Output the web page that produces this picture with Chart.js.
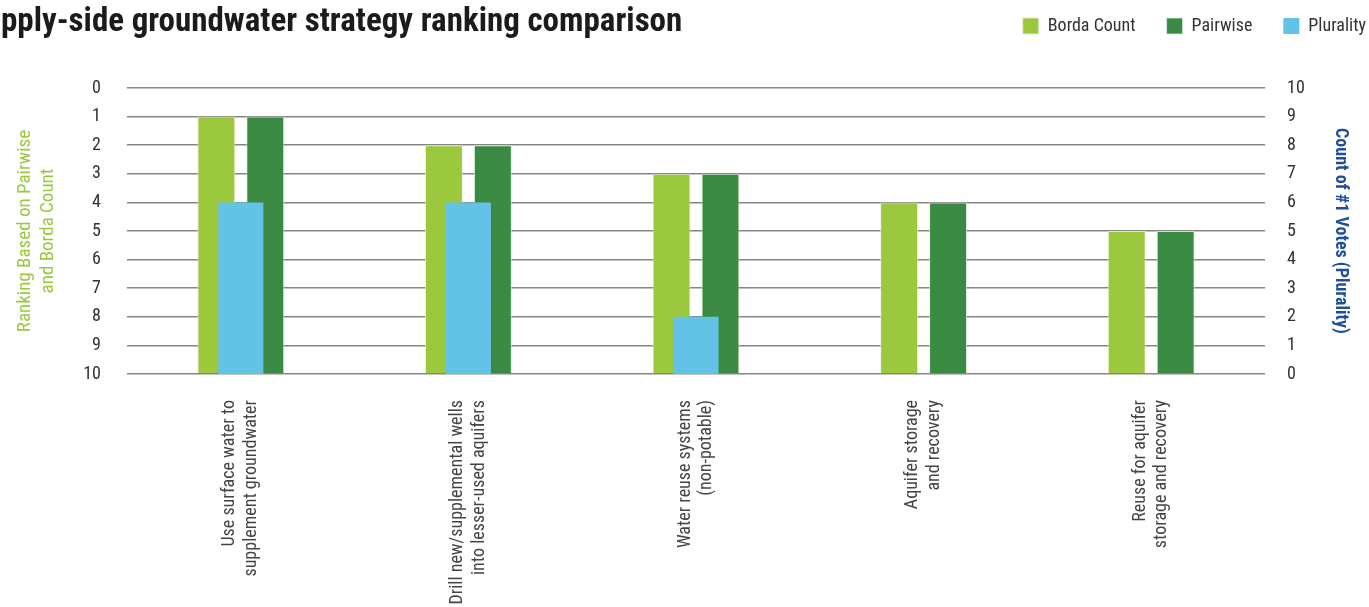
<!DOCTYPE html>
<html>
<head>
<meta charset="utf-8">
<script src="https://cdn.jsdelivr.net/npm/chart.js@4.4.1/dist/chart.umd.min.js"></script>
<style>
  html, body { margin: 0; padding: 0; background: #ffffff; overflow: hidden; }
  #c { display: block; }
</style>
</head>
<body>
<canvas id="c" width="1369" height="607"></canvas>
<script>
const chartTitle = 'Supply-side groundwater strategy ranking comparison';
const categories = [
  ['Use surface water to', 'supplement groundwater'],
  ['Drill new/supplemental wells', 'into lesser-used aquifers'],
  ['Water reuse systems', '(non-potable)'],
  ['Aquifer storage', 'and recovery'],
  ['Reuse for aquifer', 'storage and recovery']
];
const bordaRank = [1, 2, 3, 4, 5];
const pairwiseRank = [1, 2, 3, 4, 5];
const pluralityVotes = [6, 6, 2, 0, 0];
const leftAxisTitle = ['Ranking Based on Pairwise', 'and Borda Count'];
const rightAxisTitle = 'Count of #1 Votes (Plurality)';

const FONT = "'Liberation Sans Narrow', 'Roboto Condensed', 'Roboto', sans-serif";

const titlePlugin = {
  id: 'clippedTitle',
  afterDraw(chart) {
    const ctx = chart.ctx;
    ctx.save();
    ctx.font = 'bold 33px ' + FONT;
    ctx.fillStyle = '#1b1b1b';
    ctx.textBaseline = 'alphabetic';
    const hidden = ctx.measureText('Su').width;
    ctx.fillText(chartTitle, -hidden + 1, 31);
    ctx.restore();
  }
};

new Chart(document.getElementById('c'), {
  type: 'bar',
  data: {
    labels: categories,
    datasets: [
      {
        label: 'Plurality',
        data: pluralityVotes,
        xAxisID: 'x',
        yAxisID: 'y2',
        grouped: false,
        backgroundColor: '#62c3e6',
        borderWidth: 0,
        categoryPercentage: 1,
        barPercentage: 0.198,
        order: 0
      },
      {
        label: 'Borda Count',
        data: bordaRank,
        xAxisID: 'x',
        yAxisID: 'y',
        base: 10,
        backgroundColor: '#9bc83c',
        borderColor: 'rgba(230,240,220,0.8)',
        borderWidth: 1,
        categoryPercentage: 0.43,
        barPercentage: 0.776,
        order: 1
      },
      {
        label: 'Pairwise',
        data: pairwiseRank,
        xAxisID: 'x',
        yAxisID: 'y',
        base: 10,
        backgroundColor: '#3a8a43',
        borderColor: 'rgba(220,235,220,0.8)',
        borderWidth: 1,
        categoryPercentage: 0.43,
        barPercentage: 0.776,
        order: 1
      }
    ]
  },
  options: {
    responsive: false,
    animation: false,
    devicePixelRatio: 1,
    layout: { padding: { top: -14, right: -28, left: 0, bottom: 0 } },
    plugins: {
      tooltip: { enabled: false },
      legend: {
        position: 'top',
        align: 'end',
        labels: {
          boxWidth: 16,
          boxHeight: 16,
          padding: 31,
          color: '#333333',
          font: { family: FONT, size: 18 },
          sort: (a, b) => {
            const rank = [2, 0, 1];
            return rank[a.datasetIndex] - rank[b.datasetIndex];
          }
        }
      }
    },
    scales: {
      x: {
        type: 'category',
        offset: true,
        grid: { display: false },
        border: { display: false },
        ticks: {
          minRotation: 90,
          maxRotation: 90,
          padding: 18,
          labelOffset: -11,
          autoSkip: false,
          color: '#454545',
          font: { family: FONT, size: 18 }
        },
        afterFit: s => { s.height = 233; }
      },
      xTop: {
        type: 'category',
        position: 'top',
        offset: true,
        display: true,
        grid: { display: false },
        border: { display: false },
        ticks: { display: false },
        afterFit: s => { s.height = 43; }
      },
      y: {
        position: 'left',
        reverse: true,
        min: 0,
        max: 10,
        ticks: {
          stepSize: 1,
          padding: 26,
          color: '#333333',
          font: { family: FONT, size: 18 }
        },
        grid: { color: '#858585', lineWidth: 1.5, drawTicks: false },
        border: { display: false },
        title: {
          display: true,
          text: leftAxisTitle,
          color: '#9bc83c',
          font: { family: FONT, size: 19 },
          padding: { top: 14, bottom: 14 }
        },
        afterFit: s => { s.width = 127; }
      },
      y2: {
        position: 'right',
        min: 0,
        max: 10,
        ticks: {
          stepSize: 1,
          padding: 22,
          color: '#333333',
          font: { family: FONT, size: 18 }
        },
        grid: { display: false, drawTicks: false },
        border: { display: false },
        title: {
          display: true,
          text: rightAxisTitle,
          color: '#1f4e9a',
          font: { family: FONT, size: 18, weight: 'bold' },
          padding: { top: 46, bottom: 46 }
        },
        afterFit: s => { s.width = 132; }
      }
    }
  },
  plugins: [titlePlugin]
});
</script>
</body>
</html>
